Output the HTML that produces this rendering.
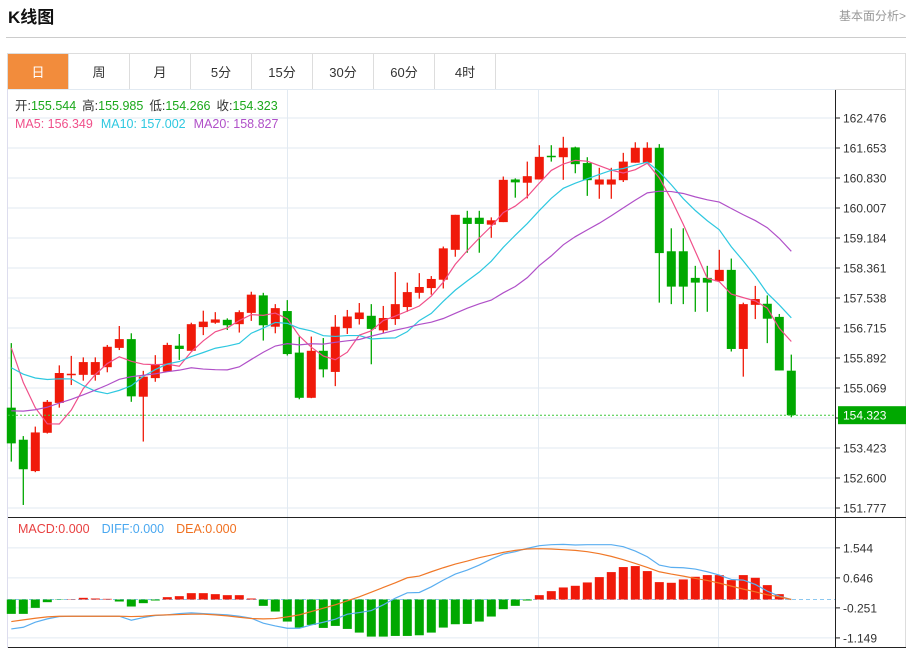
<!DOCTYPE html>
<html><head><meta charset="utf-8">
<style>
body{margin:0;background:#fff;width:912px;height:652px;overflow:hidden;font-family:"Liberation Sans","Noto Sans CJK SC",sans-serif;}
svg{display:block}
</style></head>
<body>
<svg id="chart" width="912" height="652" xmlns="http://www.w3.org/2000/svg" font-family="Liberation Sans, Noto Sans CJK SC, sans-serif">
  <text x="8" y="23" font-size="17" font-weight="bold" fill="#111">K线图</text>
  <text x="906" y="20" font-size="12" fill="#999" text-anchor="end">基本面分析&gt;</text>
  <line x1="6" y1="37.5" x2="906" y2="37.5" stroke="#ccc"/>
  <g id="tabs">
    <rect x="7.5" y="53.5" width="898" height="36" fill="#fff" stroke="#ddd"/>
  </g>
  <g id="grid"></g>
  <g id="candles"></g>
  <g id="ma"></g>
  <g id="macd"></g>
  <g id="axes"></g>
  <text x="15" y="110" font-size="12.5"><tspan fill="#333">开:</tspan><tspan fill="#1aa81a">155.544</tspan><tspan fill="#333" dx="6">高:</tspan><tspan fill="#1aa81a">155.985</tspan><tspan fill="#333" dx="6">低:</tspan><tspan fill="#1aa81a">154.266</tspan><tspan fill="#333" dx="6">收:</tspan><tspan fill="#1aa81a">154.323</tspan></text>
  <text x="15" y="128" font-size="12.5"><tspan fill="#f0508a">MA5: 156.349</tspan><tspan fill="#2ec8e0" dx="8">MA10: 157.002</tspan><tspan fill="#b050c8" dx="8">MA20: 158.827</tspan></text>
  <text x="18" y="533" font-size="12.5"><tspan fill="#e84040">MACD:0.000</tspan><tspan fill="#4aa8f0" dx="12">DIFF:0.000</tspan><tspan fill="#f07020" dx="12">DEA:0.000</tspan></text>
</svg>
<script>
const opens=[154.53,153.65,152.79,153.84,154.66,155.43,155.43,155.43,155.64,156.17,156.41,154.83,155.34,155.52,156.23,156.09,156.74,156.86,156.94,156.82,157.13,157.61,156.75,157.18,156.04,154.80,156.09,155.51,156.71,156.96,157.05,156.65,156.96,157.29,157.68,157.81,158.04,158.86,159.74,159.74,159.55,159.62,160.79,160.70,160.79,161.44,161.40,161.67,161.24,160.65,160.65,160.77,161.25,161.25,161.66,158.82,158.82,158.09,158.09,158.00,158.31,156.14,157.35,157.38,157.02,155.544];
const closes=[153.55,152.84,153.85,154.69,155.48,155.46,155.78,155.78,156.20,156.41,154.84,155.38,155.72,156.25,156.14,156.82,156.89,156.95,156.79,157.15,157.63,156.79,157.26,156.00,154.80,156.09,155.58,156.75,157.03,157.14,156.69,156.99,157.37,157.70,157.84,158.06,158.90,159.82,159.57,159.57,159.67,160.78,160.71,160.88,161.41,161.41,161.66,161.21,160.77,160.79,160.79,161.28,161.66,161.66,158.77,157.85,157.85,157.96,157.96,158.31,156.14,157.37,157.51,156.97,155.55,154.323];
const highs=[156.30,153.75,154.01,154.74,155.69,155.95,155.91,155.91,156.25,156.77,156.57,155.54,155.97,156.31,156.55,156.86,157.19,157.15,156.98,157.20,157.71,157.68,157.37,157.48,156.48,156.48,156.44,157.07,157.21,157.40,157.37,157.32,158.25,157.96,158.22,158.14,158.95,159.82,159.93,159.93,159.75,160.87,160.82,161.28,161.73,161.73,161.96,161.69,161.40,161.11,161.11,161.52,161.81,161.81,161.76,159.45,159.45,158.42,158.42,158.86,158.62,157.41,157.87,157.61,157.10,155.985];
const lows=[153.05,151.86,152.76,153.82,154.53,155.15,155.27,155.27,155.50,156.11,154.69,153.60,155.24,155.52,155.84,156.09,156.52,156.83,156.66,156.59,156.91,156.37,156.57,155.96,154.76,154.79,155.36,155.12,156.55,156.81,155.72,156.57,156.80,157.16,157.52,157.63,157.80,158.67,158.78,158.78,159.19,159.62,160.29,160.27,160.79,161.28,160.78,160.96,160.34,160.26,160.26,160.72,161.25,161.25,157.41,157.37,157.37,157.16,157.16,157.99,156.07,155.38,156.96,156.30,155.55,154.266];
const priorCloses=[153.0,153.1,153.3,153.2,153.4,153.3,153.2,153.4,153.3,153.4,154.6,154.9,155.1,155.3,155.5,157.6,157.3,156.9,155.5];
const priceTicks=[162.476,161.653,160.830,160.007,159.184,158.361,157.538,156.715,155.892,155.069,154.246,153.423,152.600,151.777];
const priceTickLabels=["162.476","161.653","160.830","160.007","159.184","158.361","157.538","156.715","155.892","155.069","","153.423","152.600","151.777"];
const macdVals=[-0.43,-0.43,-0.25,-0.08,-0.01,0.01,0.05,0.03,0.02,-0.06,-0.21,-0.11,-0.03,0.07,0.10,0.19,0.19,0.16,0.13,0.13,0.03,-0.19,-0.36,-0.66,-0.84,-0.76,-0.85,-0.79,-0.88,-0.99,-1.11,-1.11,-1.09,-1.09,-1.07,-0.99,-0.84,-0.74,-0.73,-0.66,-0.51,-0.29,-0.19,-0.03,0.13,0.25,0.36,0.41,0.51,0.67,0.82,0.97,1.00,0.85,0.52,0.50,0.60,0.68,0.73,0.73,0.58,0.73,0.65,0.43,0.16,0.0];
const diffVals=[-0.88,-0.83,-0.68,-0.58,-0.51,-0.50,-0.50,-0.50,-0.50,-0.50,-0.62,-0.54,-0.48,-0.46,-0.42,-0.40,-0.42,-0.44,-0.46,-0.50,-0.56,-0.71,-0.79,-0.86,-0.86,-0.76,-0.68,-0.59,-0.44,-0.39,-0.33,-0.16,0.04,0.20,0.21,0.38,0.58,0.76,0.88,1.03,1.21,1.36,1.43,1.53,1.61,1.64,1.65,1.63,1.64,1.64,1.64,1.58,1.45,1.28,1.03,0.96,0.95,0.91,0.83,0.73,0.60,0.58,0.45,0.25,0.10,0.0];
const deaVals=[-0.66,-0.61,-0.56,-0.52,-0.50,-0.50,-0.50,-0.50,-0.50,-0.50,-0.51,-0.50,-0.47,-0.46,-0.45,-0.44,-0.44,-0.46,-0.49,-0.53,-0.57,-0.58,-0.57,-0.52,-0.46,-0.36,-0.26,-0.16,-0.04,0.08,0.22,0.36,0.50,0.65,0.70,0.83,0.95,1.06,1.15,1.25,1.33,1.41,1.47,1.51,1.52,1.51,1.49,1.47,1.43,1.37,1.29,1.19,1.08,0.96,0.83,0.76,0.70,0.63,0.57,0.49,0.40,0.31,0.23,0.14,0.08,0.0];
const macdTicks=[1.544,0.646,-0.251,-1.149];
const macdTickLabels=["1.544","0.646","-0.251","-1.149"];
const tabLabels=["日","周","月","5分","15分","30分","60分","4时"];

const NS="http://www.w3.org/2000/svg";
function mk(tag,attrs,parent){const e=document.createElementNS(NS,tag);for(const k in attrs)e.setAttribute(k,attrs[k]);parent.appendChild(e);return e;}
const xOf=i=>11.3+12*i;
const yP=p=>118+(162.476-p)/0.823*30;
const yM=v=>599.5-v*33.43;
const L=8,R=835;

const tabs=document.getElementById('tabs');
tabLabels.forEach((t,i)=>{
  const x0=7.5+i*61;
  const r=mk('rect',{x:x0,y:53.5,width:61,height:36,fill:i===0?'#f28c3c':'#fff',stroke:'#ddd'},tabs);
  
  
  const tx=mk('text',{x:x0+30.5,y:77,'font-size':13,'text-anchor':'middle',fill:i===0?'#fff':'#333'},tabs);
  tx.textContent=t;
  
  
});

const grid=document.getElementById('grid');
priceTicks.forEach((p,i)=>{
  const ln=mk('line',{x1:L,x2:R+5,y1:yP(p),y2:yP(p),stroke:'#e2eaf2'},grid);
  
  
});
const hg=mk('line',{x1:L,x2:R,y1:89.5,y2:89.5,stroke:'#e2eaf2'},grid);


macdTicks.forEach(v=>{
  const ln=mk('line',{x1:L,x2:R+5,y1:yM(v),y2:yM(v),stroke:'#e2eaf2'},grid);
  
  
});
[287.5,538.5,718.5].forEach(x=>{
  const ln=mk('line',{x1:x,x2:x,y1:90,y2:648,stroke:'#e2eaf2'},grid);
  
  
});
const lb=mk('line',{x1:7.5,x2:7.5,y1:90,y2:648,stroke:'#dde'},grid);


const rb=mk('line',{x1:905.5,x2:905.5,y1:90,y2:648,stroke:'#ddd'},grid);



const cg=document.getElementById('candles');
const RED='#f01a0a',GREEN='#00a800';
opens.forEach((o,i)=>{
  const c=closes[i],up=c>=o,col=up?RED:GREEN,x=xOf(i);
  const w=mk('line',{x1:x,x2:x,y1:yP(highs[i]),y2:yP(lows[i]),stroke:col,'stroke-width':1.3},cg);
  
  
  const top=yP(Math.max(o,c)),bot=yP(Math.min(o,c));
  const b=mk('rect',{x:x-4.5,y:top,width:9,height:Math.max(1.5,bot-top),fill:col},cg);
  
  
});
const lp=closes[closes.length-1];
const dl=mk('line',{x1:L,x2:R,y1:yP(lp),y2:yP(lp),stroke:'#3cc83c','stroke-dasharray':'2,2'},cg);



const all=priorCloses.concat(closes);
function ma(n){return closes.map((_,i)=>{const j=i+priorCloses.length;let s=0;for(let k=j-n+1;k<=j;k++)s+=all[k];return s/n;});}
const mag=document.getElementById('ma');
[[5,'#f0508a'],[10,'#2ec8e0'],[20,'#b050c8']].forEach(([n,col])=>{
  const v=ma(n);
  const pl=mk('polyline',{points:v.map((p,i)=>xOf(i)+','+yP(p)).join(' '),fill:'none',stroke:col,'stroke-width':1.2},mag);
  
  
});

const mg=document.getElementById('macd');
const zl=mk('line',{x1:L,x2:R,y1:yM(0),y2:yM(0),stroke:'#8cc8f0','stroke-dasharray':'4,3'},mg);


macdVals.forEach((v,i)=>{
  const y0=yM(0),y1=yM(v);
  const r=mk('rect',{x:xOf(i)-4.5,y:Math.min(y0,y1),width:9,height:Math.abs(y1-y0),fill:v>=0?RED:GREEN},mg);
  
  
});
const dpl=mk('polyline',{points:diffVals.map((v,i)=>xOf(i)+','+yM(v)).join(' '),fill:'none',stroke:'#5aaef0','stroke-width':1.2},mg);


const epl=mk('polyline',{points:deaVals.map((v,i)=>xOf(i)+','+yM(v)).join(' '),fill:'none',stroke:'#f07828','stroke-width':1.2},mg);



const ax=document.getElementById('axes');
const va=mk('line',{x1:835.5,x2:835.5,y1:90,y2:648,stroke:'#222'},ax);


const sep=mk('line',{x1:8,x2:906,y1:517.5,y2:517.5,stroke:'#222'},ax);


const bl=mk('line',{x1:8,x2:906,y1:647.5,y2:647.5,stroke:'#222'},ax);


priceTicks.forEach((p,i)=>{
  const tk=mk('line',{x1:835,x2:840,y1:yP(p),y2:yP(p),stroke:'#222'},ax);
  
  
  if(priceTickLabels[i]){
    const t=mk('text',{x:843,y:yP(p)+4.5,'font-size':12,fill:'#333'},ax);
    t.textContent=priceTickLabels[i];
    
    
  }
});
const bx=mk('rect',{x:838,y:yP(lp)-9,width:68,height:18,fill:'#00a800'},ax);


const bt=mk('text',{x:843,y:yP(lp)+4.5,'font-size':12,fill:'#fff'},ax);
bt.textContent=lp.toFixed(3);


macdTicks.forEach((v,i)=>{
  const tk=mk('line',{x1:835,x2:840,y1:yM(v),y2:yM(v),stroke:'#222'},ax);
  
  
  const t=mk('text',{x:843,y:yM(v)+4.5,'font-size':12,fill:'#333'},ax);
  t.textContent=macdTickLabels[i];
  
  
});
</script>
</body></html>
